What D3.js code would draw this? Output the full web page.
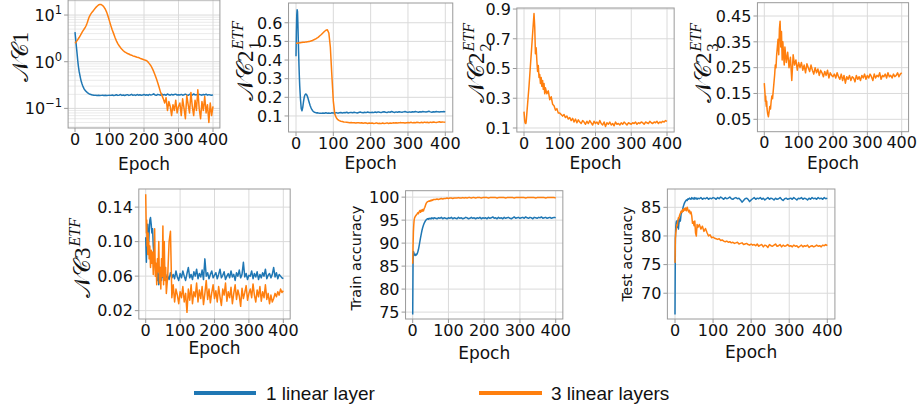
<!DOCTYPE html>
<html><head><meta charset="utf-8">
<script src="https://cdn.jsdelivr.net/npm/d3@7"></script>
<style>body{margin:0;background:#fff}</style>
</head><body><svg id="c" width="919" height="411"></svg>
<script>
// ---------- data ----------
const epochs = [0,1,2,3,4,5,6,7,8,9,10,
 12,14,16,18,20,22,24,26,28,30,32,34,36,38,40,42,44,46,48,50,52,54,56,58,60,
 64,68,72,76,80,84,88,92,96,100,
 104,108,112,116,120,124,128,132,136,140,144,148,152,156,160,164,168,172,176,180,184,188,192,196,200,
 204,208,212,216,220,224,228,232,236,240,244,248,252,256,260,264,268,272,276,280,284,288,292,296,300,
 304,308,312,316,320,324,328,332,336,340,344,348,352,356,360,364,368,372,376,380,384,388,392,396,400];

const nc1Blue = [4.3,3.6,3.0,2.5,2.1,1.8,1.5,1.25,1.05,0.9,0.78,
 0.62,0.52,0.44,0.38,0.34,0.31,0.285,0.265,0.25,0.24,0.232,0.225,0.218,0.212,0.207,0.203,0.2,0.198,0.196,0.194,0.193,0.192,0.191,0.19,0.191,
 0.189,0.191,0.188,0.19,0.192,0.189,0.191,0.188,0.19,0.192,
 0.19,0.193,0.189,0.191,0.196,0.19,0.192,0.198,0.19,0.194,0.189,0.193,0.197,0.19,0.194,0.2,0.191,0.195,0.19,0.198,0.192,0.196,0.191,0.194,0.199,
 0.192,0.196,0.19,0.199,0.193,0.197,0.205,0.194,0.191,0.2,0.195,0.192,0.201,0.194,0.198,0.191,0.204,0.195,0.192,0.2,0.194,0.198,0.202,0.193,0.196,
 0.193,0.199,0.192,0.196,0.202,0.194,0.191,0.2,0.196,0.193,0.204,0.194,0.197,0.191,0.2,0.195,0.192,0.199,0.194,0.201,0.192,0.197,0.194,0.191,0.195];
const nc1Orange = [2.48,2.53,2.58,2.64,2.7,2.76,2.83,2.9,2.98,3.06,3.14,
 3.3,3.5,3.7,3.95,4.2,4.45,4.7,4.95,5.2,5.5,5.9,6.4,7.0,7.8,8.6,9.4,10.0,10.6,11.1,11.6,12.1,12.6,13.2,13.8,14.4,
 15.4,16.4,16.9,16.8,16.0,14.8,13.3,11.4,9.3,7.4,
 5.9,4.8,4.0,3.3,2.8,2.45,2.2,2.0,1.85,1.72,1.63,1.56,1.5,1.46,1.41,1.38,1.33,1.31,1.28,1.25,1.23,1.19,1.16,1.13,1.1,
 1.08,1.05,0.98,0.9,0.82,0.72,0.62,0.52,0.43,0.35,0.28,0.22,0.19,0.16,0.13,0.17,0.09,0.14,0.11,0.07,0.12,0.09,0.15,0.08,0.11,
 0.13,0.07,0.16,0.1,0.06,0.19,0.12,0.08,0.22,0.11,0.07,0.15,0.09,0.25,0.1,0.06,0.14,0.09,0.18,0.08,0.12,0.05,0.13,0.07,0.11];

const nc21Blue = [0.42,0.55,0.64,0.67,0.66,0.6,0.52,0.44,0.37,0.31,0.26,
 0.19,0.14,0.128,0.145,0.175,0.2,0.213,0.218,0.216,0.208,0.196,0.182,0.168,0.155,0.145,0.137,0.13,0.125,0.122,0.12,0.118,0.117,0.116,0.117,0.116,
 0.115,0.114,0.116,0.115,0.117,0.115,0.116,0.114,0.117,0.116,
 0.116,0.118,0.115,0.117,0.119,0.116,0.118,0.117,0.12,0.116,0.118,0.119,0.117,0.12,0.118,0.116,0.119,0.121,0.118,0.117,0.12,0.118,0.121,0.119,0.118,
 0.12,0.118,0.121,0.119,0.122,0.12,0.118,0.121,0.123,0.12,0.119,0.122,0.12,0.124,0.121,0.119,0.122,0.12,0.123,0.121,0.12,0.122,0.124,0.121,0.12,
 0.122,0.12,0.123,0.121,0.124,0.122,0.12,0.123,0.121,0.124,0.122,0.121,0.123,0.125,0.122,0.12,0.123,0.121,0.124,0.122,0.121,0.123,0.122,0.124,0.122];
const nc21Orange = [0.49,0.49,0.49,0.49,0.491,0.491,0.491,0.492,0.492,0.492,0.493,
 0.493,0.494,0.494,0.495,0.495,0.496,0.496,0.497,0.497,0.498,0.498,0.499,0.5,0.501,0.502,0.503,0.505,0.507,0.509,0.511,0.513,0.515,0.518,0.52,0.523,
 0.53,0.537,0.545,0.553,0.56,0.562,0.545,0.47,0.32,0.18,
 0.11,0.09,0.08,0.075,0.072,0.07,0.068,0.067,0.066,0.065,0.064,0.065,0.063,0.064,0.062,0.064,0.063,0.062,0.064,0.061,0.063,0.062,0.06,0.062,0.061,
 0.062,0.06,0.061,0.063,0.06,0.061,0.059,0.062,0.06,0.061,0.063,0.06,0.062,0.061,0.063,0.062,0.064,0.062,0.063,0.065,0.063,0.064,0.062,0.064,0.065,
 0.064,0.066,0.063,0.065,0.064,0.066,0.065,0.063,0.066,0.064,0.067,0.065,0.066,0.064,0.067,0.065,0.068,0.066,0.065,0.067,0.069,0.066,0.068,0.067,0.066];

const nc22Orange = [0.21,0.18,0.15,0.135,0.13,0.13,0.14,0.17,0.2,0.23,0.26,
 0.32,0.38,0.45,0.52,0.59,0.66,0.73,0.8,0.87,0.78,0.6,0.64,0.55,0.48,0.52,0.44,0.46,0.4,0.44,0.38,0.42,0.36,0.4,0.33,0.37,
 0.33,0.35,0.29,0.31,0.26,0.25,0.22,0.23,0.2,0.2,
 0.19,0.18,0.19,0.17,0.18,0.16,0.17,0.15,0.165,0.14,0.16,0.135,0.155,0.14,0.13,0.15,0.14,0.125,0.145,0.13,0.15,0.135,0.12,0.145,0.13,
 0.14,0.125,0.15,0.13,0.12,0.14,0.11,0.135,0.125,0.14,0.12,0.13,0.115,0.14,0.125,0.13,0.12,0.135,0.125,0.14,0.13,0.12,0.135,0.13,0.125,
 0.135,0.13,0.14,0.125,0.135,0.13,0.14,0.135,0.125,0.14,0.135,0.13,0.145,0.135,0.13,0.14,0.135,0.145,0.13,0.14,0.135,0.145,0.14,0.15,0.145];

const nc23Orange = [0.19,0.17,0.15,0.12,0.14,0.11,0.1,0.12,0.09,0.08,0.07,
 0.06,0.08,0.1,0.09,0.12,0.14,0.13,0.16,0.19,0.22,0.26,0.25,0.3,0.33,0.36,0.3,0.4,0.43,0.33,0.39,0.28,0.35,0.3,0.26,0.33,
 0.27,0.31,0.25,0.29,0.2,0.3,0.26,0.28,0.24,0.27,
 0.25,0.27,0.24,0.26,0.23,0.265,0.25,0.235,0.26,0.24,0.225,0.25,0.23,0.245,0.22,0.24,0.23,0.215,0.235,0.22,0.24,0.21,0.23,0.22,0.215,
 0.225,0.21,0.23,0.215,0.205,0.225,0.2,0.22,0.19,0.215,0.205,0.22,0.2,0.215,0.21,0.195,0.22,0.205,0.215,0.2,0.22,0.21,0.225,0.205,0.22,
 0.21,0.225,0.215,0.2,0.225,0.21,0.22,0.215,0.23,0.205,0.22,0.215,0.225,0.21,0.23,0.215,0.22,0.21,0.225,0.215,0.22,0.23,0.215,0.225,0.23];

const nc3Blue = [0.105,0.09,0.076,0.095,0.1,0.11,0.12,0.105,0.115,0.1,0.11,
 0.125,0.128,0.12,0.11,0.115,0.095,0.085,0.075,0.07,0.062,0.068,0.055,0.064,0.05,0.062,0.058,0.07,0.055,0.065,0.06,0.058,0.068,0.056,0.062,0.058,
 0.06,0.056,0.064,0.058,0.062,0.057,0.066,0.059,0.055,0.063,
 0.058,0.066,0.06,0.055,0.063,0.07,0.058,0.062,0.056,0.065,0.06,0.068,0.057,0.063,0.059,0.067,0.056,0.08,0.06,0.064,0.057,0.062,0.066,0.058,0.061,
 0.064,0.057,0.062,0.068,0.058,0.061,0.065,0.056,0.06,0.063,0.058,0.066,0.059,0.062,0.055,0.064,0.06,0.067,0.058,0.062,0.076,0.059,0.063,0.056,0.061,
 0.06,0.066,0.057,0.063,0.059,0.065,0.056,0.062,0.058,0.064,0.06,0.068,0.057,0.061,0.063,0.058,0.062,0.07,0.059,0.064,0.057,0.062,0.06,0.058,0.057];
const nc3Orange = [0.155,0.13,0.11,0.125,0.095,0.105,0.085,0.11,0.09,0.1,0.08,
 0.095,0.07,0.09,0.075,0.088,0.062,0.08,0.115,0.06,0.075,0.05,0.08,0.065,0.1,0.052,0.07,0.045,0.08,0.06,0.118,0.05,0.1,0.055,0.07,0.04,
 0.06,0.1,0.112,0.035,0.05,0.03,0.045,0.038,0.028,0.042,
 0.035,0.048,0.03,0.04,0.018,0.045,0.032,0.05,0.028,0.042,0.036,0.052,0.03,0.044,0.034,0.048,0.027,0.04,0.055,0.033,0.045,0.029,0.041,0.05,0.034,
 0.043,0.03,0.048,0.036,0.026,0.045,0.038,0.052,0.031,0.042,0.035,0.047,0.028,0.04,0.05,0.033,0.044,0.037,0.025,0.046,0.034,0.041,0.049,0.032,0.04,
 0.045,0.035,0.051,0.038,0.03,0.044,0.036,0.048,0.031,0.042,0.035,0.05,0.033,0.04,0.028,0.038,0.03,0.034,0.04,0.036,0.042,0.038,0.045,0.041,0.043];

const trainBlue = [74.5,86.5,88.2,88.0,87.6,87.4,87.5,87.3,87.5,87.6,87.4,
 87.6,88.0,88.6,89.4,90.3,91.2,92.0,92.8,93.4,93.9,94.3,94.6,94.9,95.1,95.2,95.3,95.2,95.4,95.3,95.4,95.3,95.5,95.4,95.3,95.5,
 95.4,95.3,95.5,95.4,95.6,95.3,95.5,95.4,95.3,95.5,
 95.4,95.6,95.3,95.5,95.4,95.3,95.6,95.4,95.5,95.3,95.4,95.6,95.5,95.3,95.4,95.6,95.4,95.5,95.3,95.5,95.4,95.6,95.3,95.5,95.4,
 95.5,95.3,95.6,95.4,95.5,95.7,95.4,95.5,95.3,95.6,95.4,95.5,95.3,95.6,95.4,95.5,95.6,95.4,95.3,95.5,95.7,95.4,95.5,95.6,95.4,
 95.5,95.6,95.4,95.7,95.5,95.4,95.6,95.5,95.3,95.6,95.5,95.4,95.6,95.5,95.7,95.4,95.5,95.6,95.4,95.5,95.6,95.4,95.5,95.6,95.5];
const trainOrange = [85.5,89.5,92.5,94.0,95.0,95.4,95.6,95.8,95.9,96.0,96.1,
 96.3,96.6,96.4,96.8,97.1,96.7,97.2,96.9,97.3,97.0,97.5,97.8,98.3,98.7,98.9,99.0,99.1,99.2,99.1,99.3,99.2,99.4,99.3,99.5,99.5,
 99.5,99.6,99.5,99.6,99.7,99.6,99.7,99.7,99.8,99.7,
 99.8,99.8,99.7,99.8,99.8,99.8,99.9,99.8,99.8,99.9,99.8,99.9,99.8,99.9,99.9,99.8,99.9,99.9,99.8,99.9,99.9,99.9,99.8,99.9,99.9,
 99.9,99.9,99.8,99.9,99.9,99.9,99.9,99.9,99.8,99.9,99.9,99.9,99.9,99.9,99.8,99.9,99.9,99.9,99.9,99.9,99.8,99.9,99.9,99.9,99.9,
 99.9,99.9,99.9,99.8,99.9,99.9,99.9,99.9,99.9,99.9,99.8,99.9,99.9,99.9,99.9,99.9,99.9,99.8,99.9,99.9,99.9,99.9,99.9,99.9,99.8];

const testBlue = [66.3,79.5,81.5,82.3,82.6,82.0,82.5,81.5,82.8,81.2,82.0,
 83.0,82.6,83.8,84.2,84.6,85.2,85.6,85.9,86.1,86.3,86.2,86.5,86.4,86.6,86.5,86.4,86.7,86.5,86.6,86.4,86.7,86.5,86.6,86.4,86.6,
 86.5,86.7,86.4,86.6,86.5,86.7,86.4,86.6,86.5,86.7,
 86.6,86.4,86.7,86.5,86.8,86.6,86.4,86.7,86.5,86.6,86.8,86.5,86.4,86.6,86.7,86.5,86.6,86.3,85.9,86.2,86.5,86.6,86.4,86.0,86.3,
 86.5,86.7,86.4,86.6,86.5,86.7,86.4,86.6,86.3,86.5,86.7,86.4,86.6,86.5,86.3,86.6,86.4,86.5,86.7,86.4,86.2,86.5,86.6,86.4,86.5,
 86.6,86.4,86.7,86.5,86.3,86.6,86.5,86.7,86.4,86.6,86.5,86.3,86.6,86.4,86.7,86.5,86.6,86.4,86.7,86.5,86.6,86.4,86.7,86.5,86.6];
const testOrange = [75.3,79.5,80.5,81.0,81.5,82.0,81.8,82.5,82.8,83.2,83.0,
 83.6,83.9,84.3,84.1,84.6,84.3,84.8,84.5,84.9,84.4,85.0,84.6,84.2,84.5,83.9,84.2,83.5,82.2,82.5,81.8,82.6,80.5,80.0,82.0,81.5,
 82.0,81.2,81.7,80.8,81.3,80.6,80.0,80.2,79.7,79.8,
 79.6,79.5,79.4,79.5,79.2,79.3,79.1,79.0,79.1,78.9,79.0,78.8,78.9,78.7,78.8,78.9,78.6,78.7,78.8,78.5,78.6,78.7,78.5,78.4,78.6,
 78.4,78.5,78.3,78.6,78.2,78.4,78.5,78.1,78.4,78.3,78.0,78.5,78.3,78.2,78.4,78.6,78.2,78.3,78.5,78.1,78.4,78.2,78.3,78.5,78.2,
 78.3,78.1,78.4,78.2,78.3,78.0,78.2,78.4,78.1,78.3,78.2,78.4,78.0,78.2,78.3,78.1,78.2,78.4,78.2,78.3,78.1,78.4,78.3,78.5,78.3];

const xTicks = [0,100,200,300,400];
const legendLabels = ["1 linear layer", "3 linear layers"];
const colors = ["#1f77b4", "#ff7f0e"];

// ---------- layout ----------
const panels = [
 {x0:75, x400:213, top:0, bottom:128, log:true, yDomain:[0.038,21], yTicks:[0.1,1,10], tickLabels:[["10","−1"],["10","0"],["10","1"]],
  series:[[nc1Blue,0],[nc1Orange,1]], label:{type:"math", digit:"1", bx:28, cy:57, size:23}, epochY:170},
 {x0:296, x400:445.3, top:3, bottom:132, yDomain:[0.014,0.706], yTicks:[0.1,0.2,0.3,0.4,0.5,0.6], fmt:d3.format(".1f"),
  series:[[nc21Blue,0],[nc21Orange,1]], label:{type:"math", digit:"2", sub:"1", sup:"ETF", bx:253, cy:61, size:23}, epochY:169},
 {x0:524, x400:667, top:8, bottom:132, yDomain:[0.073,0.907], yTicks:[0.1,0.3,0.5,0.7,0.9], fmt:d3.format(".1f"),
  series:[[nc22Orange,1]], label:{type:"math", digit:"2", sub:"2", sup:"ETF", bx:484, cy:63, size:23}, epochY:169},
 {x0:764.3, x400:901.7, top:2.7, bottom:131.7, yDomain:[0.002,0.5015], yTicks:[0.05,0.15,0.25,0.35,0.45], fmt:d3.format(".2f"),
  series:[[nc23Orange,1]], label:{type:"math", digit:"2", sub:"3", sup:"ETF", bx:711, cy:63, size:23}, epochY:169},
 {x0:145.7, x400:283.3, top:189, bottom:319, yDomain:[0.0103,0.161], yTicks:[0.02,0.06,0.10,0.14], fmt:d3.format(".2f"),
  series:[[nc3Blue,0],[nc3Orange,1]], label:{type:"math", digit:"3", sup:"ETF", bx:90, cy:258, size:23}, epochY:354},
 {x0:412.7, x400:555.7, top:190.7, bottom:319, yDomain:[73.5,101.4], yTicks:[75,80,85,90,95,100], fmt:d3.format("d"),
  series:[[trainBlue,0],[trainOrange,1]], label:{type:"text", text:"Train accuracy", bx:361, cy:258, size:14.5}, epochY:359},
 {x0:675, x400:827.3, top:189, bottom:319, yDomain:[65.5,88.2], yTicks:[70,75,80,85], fmt:d3.format("d"),
  series:[[testBlue,0],[testOrange,1]], label:{type:"text", text:"Test accuracy", bx:632, cy:254, size:14}, epochY:358}
];

const svg = d3.select("#c");
const SANS = "'DejaVu Sans', sans-serif";
const gridC = "#dadada", spineC = "#9a9a9a";

panels.forEach((p, i) => {
  const per = (p.x400 - p.x0) / 400;
  const left = p.x0 - 20 * per, right = p.x400 + 20 * per;
  const x = d3.scaleLinear().domain([-20, 420]).range([left, right]);
  const y = (p.log ? d3.scaleLog() : d3.scaleLinear()).domain(p.yDomain).range([p.bottom, p.top]);
  const g = svg.append("g");
  const cid = "clip" + i;
  svg.append("clipPath").attr("id", cid).append("rect")
    .attr("x", left).attr("y", p.top).attr("width", right - left).attr("height", p.bottom - p.top);

  // minor grid for log
  if (p.log) {
    const minors = [];
    for (let e = -2; e <= 1; e++) for (let m = 2; m <= 9; m++) {
      const v = m * Math.pow(10, e);
      if (v > p.yDomain[0] && v < p.yDomain[1]) minors.push(v);
    }
    g.selectAll(".mg").data(minors).join("line")
      .attr("x1", left).attr("x2", right).attr("y1", d => y(d)).attr("y2", d => y(d))
      .attr("stroke", "#e4e4e4").attr("stroke-width", 0.8);
  }
  // grid
  g.selectAll(".gy").data(p.yTicks).join("line")
    .attr("x1", left).attr("x2", right).attr("y1", d => y(d)).attr("y2", d => y(d))
    .attr("stroke", gridC).attr("stroke-width", 1);
  g.selectAll(".gx").data(xTicks).join("line")
    .attr("y1", p.top).attr("y2", p.bottom).attr("x1", d => x(d)).attr("x2", d => x(d))
    .attr("stroke", gridC).attr("stroke-width", 1);

  // series
  const line = d3.line().x((d, k) => x(epochs[k])).y(d => y(d));
  p.series.forEach(([vals, ci]) => {
    g.append("path").datum(vals.slice(0, epochs.length))
      .attr("d", line).attr("fill", "none").attr("stroke", colors[ci])
      .attr("stroke-width", 1.5).attr("stroke-linejoin", "round")
      .attr("clip-path", `url(#${cid})`);
  });

  // spines
  g.append("rect").attr("x", left).attr("y", p.top).attr("width", right - left).attr("height", p.bottom - p.top)
    .attr("fill", "none").attr("stroke", spineC).attr("stroke-width", 1);

  // x ticks
  g.selectAll(".tx").data(xTicks).join("line")
    .attr("x1", d => x(d)).attr("x2", d => x(d)).attr("y1", p.bottom).attr("y2", p.bottom + 4)
    .attr("stroke", spineC);
  g.selectAll(".lx").data(xTicks).join("text")
    .attr("x", d => x(d)).attr("y", p.bottom + 16.5).attr("text-anchor", "middle")
    .style("font-family", SANS).style("font-size", "16px").attr("fill", "#111").text(d => d);
  // y ticks
  g.selectAll(".ty").data(p.yTicks).join("line")
    .attr("x1", left - 4).attr("x2", left).attr("y1", d => y(d)).attr("y2", d => y(d))
    .attr("stroke", spineC);
  if (p.log) {
    p.yTicks.forEach((v, k) => {
      const t = g.append("text").attr("x", left - 6).attr("y", y(v) + 6).attr("text-anchor", "end")
        .style("font-family", SANS).style("font-size", "16px").attr("fill", "#111");
      t.append("tspan").text(p.tickLabels[k][0]);
      t.append("tspan").attr("dy", -7).style("font-size", "11.5px").text(p.tickLabels[k][1]);
    });
  } else {
    g.selectAll(".ly").data(p.yTicks).join("text")
      .attr("x", left - 6).attr("y", d => y(d) + 5.8).attr("text-anchor", "end")
      .style("font-family", SANS).style("font-size", "16px").attr("fill", "#111").text(d => p.fmt(d));
  }
  // x label
  g.append("text").attr("x", (left + right) / 2).attr("y", p.epochY).attr("text-anchor", "middle")
    .style("font-family", SANS).style("font-size", "17px").attr("fill", "#111").text("Epoch");

  // y label
  const L = p.label;
  const lg = svg.append("g").attr("transform", `translate(${L.bx},${L.cy}) rotate(-90)`);
  if (L.type === "text") {
    lg.append("text").attr("x", 0).attr("y", 0).attr("text-anchor", "middle")
      .style("font-family", SANS).style("font-size", L.size + "px").attr("fill", "#111").text(L.text);
  } else {
    const inner = lg.append("g");
    const main = inner.append("text").attr("x", 0).attr("y", 0)
      .style("font-family", "'DejaVu Serif', serif").style("font-size", L.size + "px").attr("fill", "#111");
    main.append("tspan").text("𝒩𝒞");
    main.append("tspan").style("font-family", "'Liberation Serif', serif").text(L.digit);
    const w = main.node().getComputedTextLength();
    let extra = 0;
    if (L.sub) {
      const t = inner.append("text").attr("x", w + 1).attr("y", L.size * 0.3)
        .style("font-family", "'Liberation Serif', serif").style("font-size", (L.size * 0.7) + "px").attr("fill", "#111").text(L.sub);
      extra = Math.max(extra, t.node().getComputedTextLength() + 1);
    }
    if (L.sup) {
      const t = inner.append("text").attr("x", w + 1).attr("y", -L.size * 0.42)
        .style("font-family", "'Liberation Serif', serif").style("font-style", "italic")
        .style("font-size", (L.size * 0.7) + "px").attr("fill", "#111").text(L.sup);
      extra = Math.max(extra, t.node().getComputedTextLength() + 1);
    }
    inner.attr("transform", `translate(${-(w + extra) / 2},0)`);
  }
});

// legend
const legX = [[194, 256, 266], [479, 542, 551]];
legendLabels.forEach((lab, k) => {
  svg.append("line").attr("x1", legX[k][0]).attr("x2", legX[k][1]).attr("y1", 393).attr("y2", 393)
    .attr("stroke", colors[k]).attr("stroke-width", 4);
  svg.append("text").attr("x", legX[k][2]).attr("y", 399.5)
    .style("font-family", "'Liberation Sans', Arial, sans-serif").style("font-size", "19px").attr("fill", "#111").text(lab);
});
</script></body></html>
